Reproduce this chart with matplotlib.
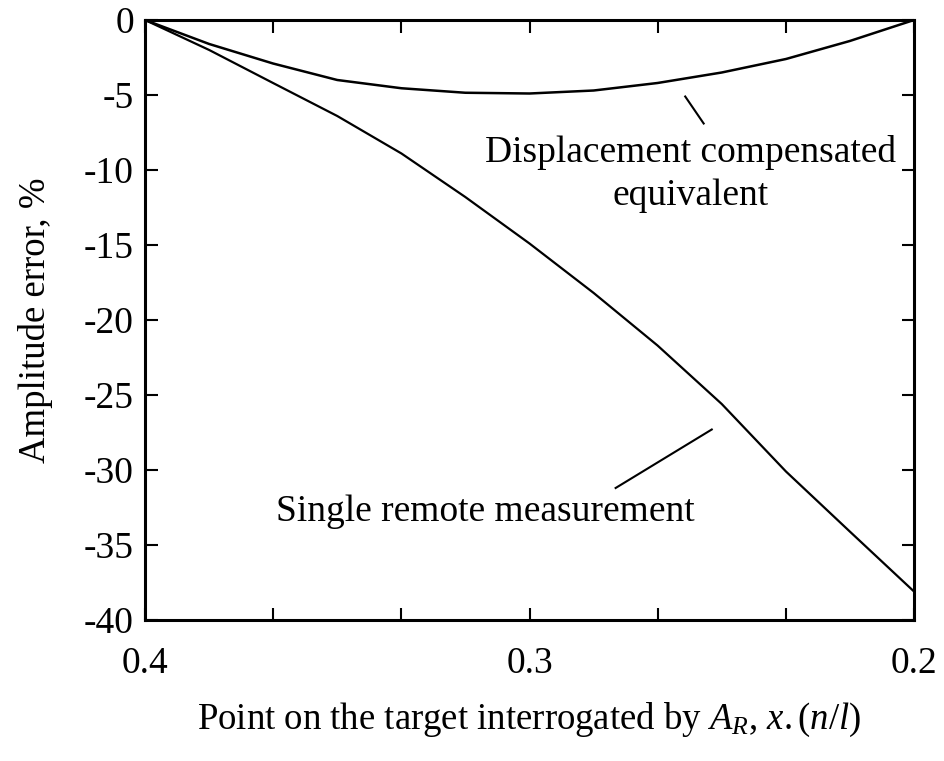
import numpy as np
import matplotlib
matplotlib.use("Agg")
import matplotlib.pyplot as plt
from matplotlib.ticker import MultipleLocator, FixedLocator

plt.rcParams['font.family'] = ['Liberation Serif', 'DejaVu Serif']
plt.rcParams['mathtext.fontset'] = 'custom'
plt.rcParams['mathtext.rm'] = 'Liberation Serif'
plt.rcParams['mathtext.it'] = 'Liberation Serif:italic'
plt.rcParams['axes.unicode_minus'] = False

# point on target, x.(n/l)
x_pos = [0.4, 0.3833, 0.3667, 0.35, 0.3333, 0.3167, 0.3,
         0.2833, 0.2667, 0.25, 0.2333, 0.2167, 0.2]
# amplitude error, %
single_remote = [0, -2.0, -4.2, -6.4, -8.9, -11.8, -14.9,
                 -18.2, -21.7, -25.6, -30.1, -34.1, -38.1]
disp_comp = [0, -1.6, -2.9, -4.0, -4.55, -4.85, -4.9,
             -4.7, -4.2, -3.5, -2.6, -1.4, 0]

x_labels = ['0.4', '0.3', '0.2']
x_label_pos = [0.4, 0.3, 0.2]

fig = plt.figure(figsize=(9.45, 7.61), dpi=100)
ax = fig.add_axes([145/945, 1-620/761, (914-145)/945, (620-20)/761])

ax.plot(x_pos, disp_comp, color='black', lw=1.8)
ax.plot(x_pos, single_remote, color='black', lw=1.6)

ax.set_xlim(0.4, 0.2)
ax.set_ylim(-40, 0)

ax.xaxis.set_major_locator(FixedLocator(x_label_pos))
ax.set_xticklabels(x_labels)
ax.xaxis.set_minor_locator(FixedLocator(np.linspace(0.4, 0.2, 7)))
ax.yaxis.set_major_locator(MultipleLocator(5))

ax.tick_params(which='both', direction='in', top=True, right=True,
               width=1.5, labelsize=27)
ax.tick_params(which='major', length=9)
ax.tick_params(which='minor', length=9)
ax.tick_params(axis='x', pad=19)
ax.tick_params(axis='y', pad=8)
for s in ax.spines.values():
    s.set_linewidth(2.2)

ax.set_xlabel(r'Point on the target interrogated by $A_R$, $x.(n/l)$',
              fontsize=26.5, labelpad=14)
ax.set_ylabel('Amplitude error, %', fontsize=26.5, labelpad=22)

# leaders and labels
ax.plot([0.2595, 0.2547], [-5.1, -6.9], color='black', lw=1.5)
ax.text(0.258, -8.8, 'Displacement compensated', ha='center', va='center', fontsize=27)
ax.text(0.258, -11.7, 'equivalent', ha='center', va='center', fontsize=27)

ax.plot([0.2526, 0.2776], [-27.3, -31.2], color='black', lw=1.5)
ax.text(0.3115, -32.8, 'Single remote measurement', ha='center', va='center', fontsize=27)

fig.savefig('out.png', dpi=100)
